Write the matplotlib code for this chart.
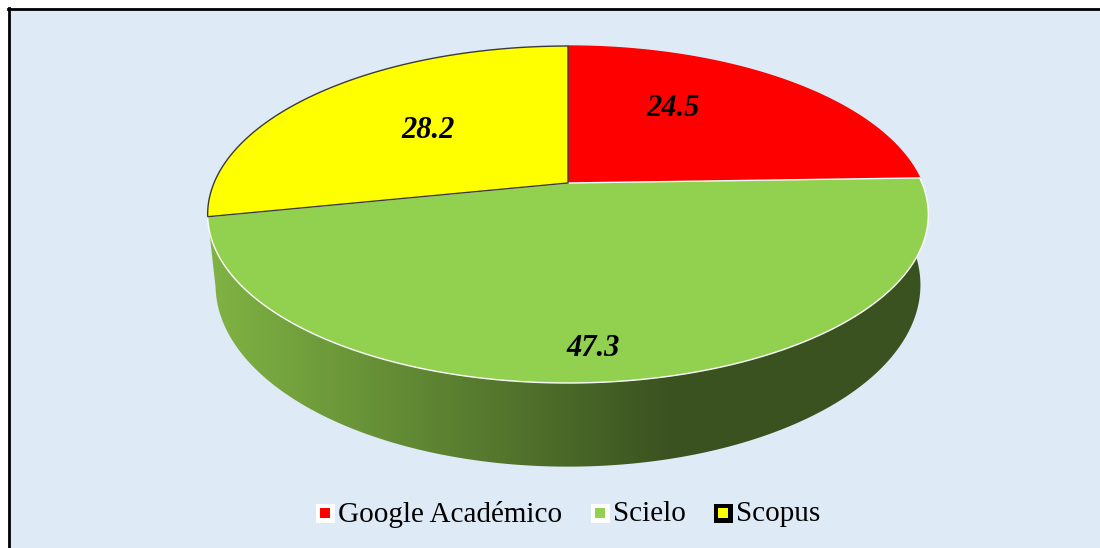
import numpy as np
import matplotlib
matplotlib.use("Agg")
import matplotlib.pyplot as plt
from matplotlib.patches import Polygon, Rectangle
from matplotlib.colors import to_rgb

## data ##
labels = ["Google Académico", "Scielo", "Scopus"]
values = [24.5, 47.3, 28.2]
colors = ["#FF0000", "#92D050", "#FFFF00"]
edge_colors = ["#FF0000", "#FFFFFF", "#3A3A3A"]

## layout (pixels) ##
W, H = 1100, 548
cx, cy = 568, 183        # apex of the pie top
A, B = 354, 162.6        # horizontal / vertical radius scale
k = 0.187                # perspective factor
T = 68                   # thickness of the side wall
shrink = 0.978           # bottom edge is a bit narrower (seen from above)
label_pos = [(673, 108), (593, 349), (428, 130)]
legend_x = [325, 600, 723]
legend_y = 513
bg = "#DEEAF6"
side_light, side_dark = "#7FB243", "#3A5220"


def proj(theta_deg, r=1.0, drop=0.0):
    t = np.radians(theta_deg)
    u, v = r*np.cos(t), r*np.sin(t)
    d = 1 + k*v
    return cx + A*u/d, cy - B*v/d + drop/d


fig = plt.figure(figsize=(W/100, H/100), dpi=100, facecolor="white")
ax = fig.add_axes([0, 0, 1, 1])
ax.set_xlim(0, W)
ax.set_ylim(H, 0)
ax.axis("off")

# chart area with frame on top and left
ax.add_patch(Rectangle((8, 8), W, H, facecolor=bg, edgecolor="none", zorder=0))
ax.plot([8, W], [9, 9], color="black", lw=2, zorder=1)
ax.plot([8.5, 8.5], [8, H], color="black", lw=2, zorder=1)

# slice angles, starting at 12 o'clock going clockwise
fracs = np.array(values)/sum(values)
ends = 90 - 360*np.cumsum(fracs)
starts = np.concatenate([[90], ends[:-1]])

# side wall (only Scielo's side is visible)
a0, a1 = starts[1], ends[1]
th = np.linspace(a1, a0, 200)
tx, ty = proj(th)
bx, by = proj(th[::-1], drop=T)
bx = cx + (bx - cx)*shrink
side = Polygon(np.column_stack([np.concatenate([tx, bx]), np.concatenate([ty, by])]),
               closed=True, facecolor="none", edgecolor="none", zorder=2)
ax.add_patch(side)
xs = np.linspace(190, 950, 400)
t = np.clip((xs - 215)/(672 - 215), 0, 1)[:, None]
c0, c1 = np.array(to_rgb(side_light)), np.array(to_rgb(side_dark))
grad = (c0*(1 - t) + c1*t)[None, :, :]
im = ax.imshow(grad, extent=(190, 950, 480, 170), aspect="auto", zorder=2)
im.set_clip_path(side)

# top face
for i in range(len(values)):
    th = np.linspace(starts[i], ends[i], 200)
    px, py = proj(th)
    pts = np.column_stack([np.concatenate([[cx], px]), np.concatenate([[cy], py])])
    ax.add_patch(Polygon(pts, closed=True, facecolor=colors[i],
                         edgecolor=edge_colors[i], lw=1.0, zorder=3 + (i == 2)))

# data labels
for (x, y), val in zip(label_pos, values):
    ax.text(x, y, f"{val:.1f}", ha="center", va="center", fontsize=22,
            family="Liberation Serif", weight="bold", style="italic", zorder=6)

# legend
for x, lab, col in zip(legend_x, labels, colors):
    outer = "black" if col == "#FFFF00" else "white"
    ax.add_patch(Rectangle((x - 9.5, legend_y - 9.5), 19, 19, facecolor=outer,
                           edgecolor="none", zorder=6))
    ax.add_patch(Rectangle((x - 5, legend_y - 5), 10, 10, facecolor=col,
                           edgecolor="none", zorder=7))
    ax.text(x + 13, legend_y + 1, lab, ha="left", va="center", fontsize=21,
            family="Liberation Serif", zorder=7)

fig.savefig("out.png", dpi=100, facecolor="white")
